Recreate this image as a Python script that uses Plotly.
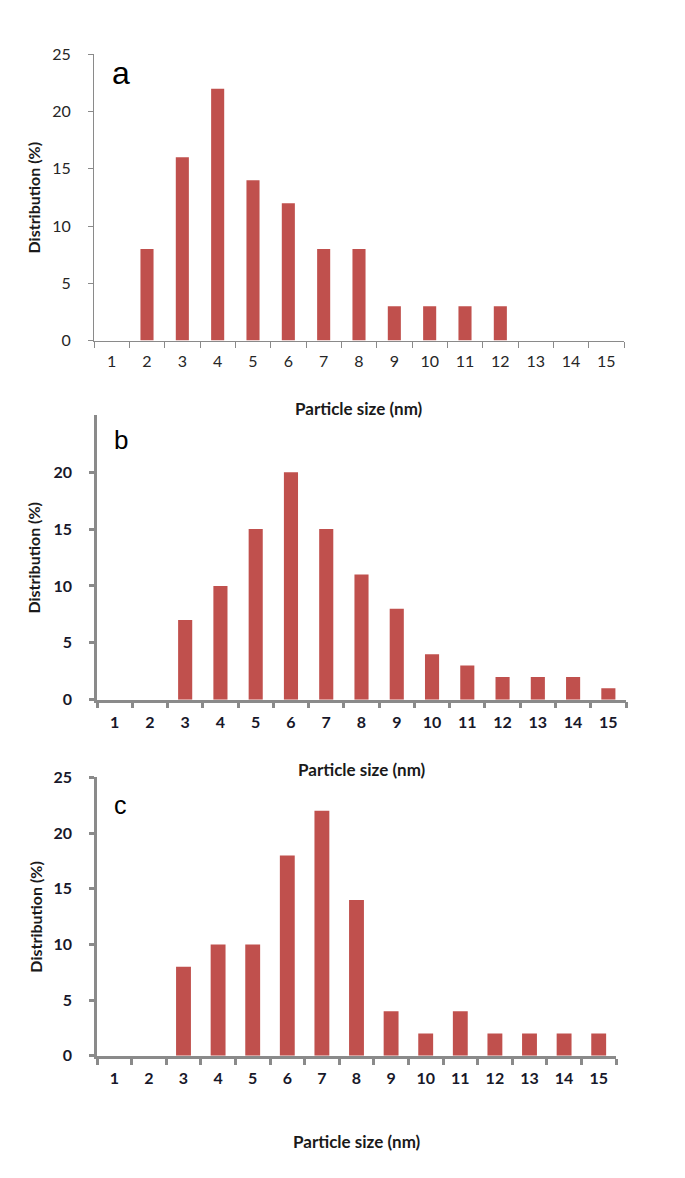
import plotly.graph_objects as go

sizes = [str(i) for i in range(1, 16)]
dist_a = [0, 8, 16, 22, 14, 12, 8, 8, 3, 3, 3, 3, 0, 0, 0]
dist_b = [0, 0, 7, 10, 15, 20, 15, 11, 8, 4, 3, 2, 2, 2, 1]
dist_c = [0, 0, 8, 10, 10, 18, 22, 14, 4, 2, 4, 2, 2, 2, 2]
y_ticks = [0, 5, 10, 15, 20, 25]
y_ticks_b = [0, 5, 10, 15, 20]
panel_labels = ["a", "b", "c"]
x_title = "Particle size (nm)"
y_title = "Distribution (%)"

W, H = 685, 1178
BAR = "#C0504D"
AX = "#8a8a8a"
FONT = "Lato, Open Sans, sans-serif"

def px(x):
    return x / W

def py(y):
    return 1 - y / H

panels = [
    dict(data=dist_a, x0=94, x1=624, top=45, bot=336, gap=0.63, ticks=y_ticks, bold=False, lw=1.2,
         lab=(110, 64, 32), xt=405, yt_x=33),
    dict(data=dist_b, x0=97, x1=626, top=412, bot=701, gap=0.6, ticks=y_ticks_b, bold=True, lw=2.5,
         lab=(112, 437, 26), xt=772, yt_x=34),
    dict(data=dist_c, x0=97, x1=616, top=780, bot=1063, gap=0.57, ticks=y_ticks, bold=True, lw=2.5,
         lab=(112, 808, 25), xt=1150, yt_x=36),
]

fig = go.Figure()
annotations = []
layout = {}
for i, p in enumerate(panels):
    n = "" if i == 0 else str(i + 1)
    fig.add_trace(go.Bar(x=sizes, y=p["data"], marker=dict(color=BAR, line=dict(width=0)),
                         width=1 - p["gap"], xaxis="x" + n, yaxis="y" + n, showlegend=False))
    tick_font = dict(family=FONT, size=16,
                     color="#18182a" if p["bold"] else "#262626",
                     weight="bold" if p["bold"] else "normal")
    layout["xaxis" + n] = dict(
        type="category", domain=[px(p["x0"]), px(p["x1"])], anchor="y" + n,
        showline=True, linecolor=AX, linewidth=p["lw"], ticks="outside", tickson="boundaries",
        ticklen=6, tickwidth=p["lw"], tickcolor=AX, showgrid=False, zeroline=False,
        tickfont=tick_font, ticklabelstandoff=6, fixedrange=True,
    )
    layout["yaxis" + n] = dict(
        domain=[py(p["bot"]), py(p["top"])], anchor="x" + n, range=[0, 25],
        tickvals=p["ticks"], showline=True, linecolor=AX, linewidth=p["lw"], ticks="outside",
        ticklen=5, tickwidth=p["lw"], tickcolor=AX, showgrid=False, zeroline=False,
        tickfont=tick_font, ticklabelstandoff=14, fixedrange=True,
    )
    lx, ly, ls = p["lab"]
    annotations.append(dict(text=panel_labels[i], x=px(lx), y=py(ly), xref="paper", yref="paper",
                            showarrow=False, xanchor="left", yanchor="middle",
                            font=dict(family="Liberation Sans, Arial, sans-serif", size=ls, color="#000")))
    annotations.append(dict(text="<b>" + x_title + "</b>", x=px((p["x0"] + p["x1"]) / 2), y=py(p["xt"]),
                            xref="paper", yref="paper", showarrow=False, xanchor="center", yanchor="middle",
                            font=dict(family=FONT, size=17, color="#1a1a1a")))
    annotations.append(dict(text="<b>" + y_title + "</b>", x=px(p["yt_x"]), y=py((p["top"] + p["bot"]) / 2),
                            xref="paper", yref="paper", showarrow=False, textangle=-90,
                            xanchor="center", yanchor="middle",
                            font=dict(family=FONT, size=16, color="#1a1a1a")))

fig.update_layout(
    width=W, height=H, margin=dict(l=0, r=0, t=0, b=0),
    paper_bgcolor="white", plot_bgcolor="white",
    annotations=annotations, **layout,
)

fig.write_html("out.html", config={"displayModeBar": False},
               post_script="document.body.style.margin='0';document.body.style.overflow='hidden';")
